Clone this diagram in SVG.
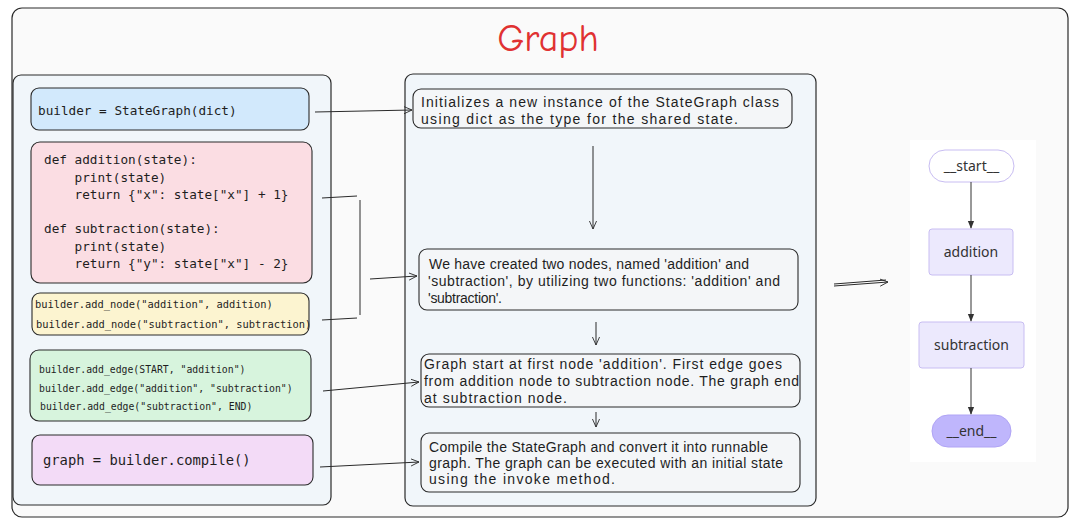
<svg xmlns="http://www.w3.org/2000/svg" width="1076" height="527" viewBox="0 0 1076 527">
<defs>
<style>
.frame{fill:#fafafa;stroke:#2a2a2a;stroke-width:1.2}
.panel{fill:#f1f6fa;stroke:#2a2a2a;stroke-width:1.2}
.box{stroke:#2a2a2a;stroke-width:1.1}
.code{font-family:"DejaVu Sans Mono","Liberation Mono",monospace;fill:#1e1e1e}
.hand{font-family:"Liberation Sans","DejaVu Sans",sans-serif;font-size:14px;fill:#1e1e1e}
.conn{fill:none;stroke:#2a2a2a;stroke-width:1}
.mconn{fill:none;stroke:#333;stroke-width:1}
.mnode{fill:#ece9fd;stroke:#c8bdf2;stroke-width:1}
.mtext{font-family:"Noto Sans","DejaVu Sans",sans-serif;font-size:14px;fill:#333;text-anchor:middle}
</style>
<marker id="ah" viewBox="0 0 10 10" refX="9" refY="5" markerWidth="9" markerHeight="9" orient="auto" markerUnits="userSpaceOnUse">
<path d="M0,1 L9,5 L0,9" fill="none" stroke="#2a2a2a" stroke-width="1"/>
</marker>
<marker id="mah" viewBox="0 0 10 10" refX="9" refY="5" markerWidth="8" markerHeight="8" orient="auto" markerUnits="userSpaceOnUse">
<path d="M0,1 L10,5 L0,9 z" fill="#333"/>
</marker>
</defs>

<g id="frame">
<rect class="frame" x="12" y="8" width="1056" height="509" rx="10"/>
<text x="548" y="51" font-family="Comic Neue,'Liberation Sans',sans-serif" font-size="38" fill="#e03131" text-anchor="middle">Graph</text>
</g>

<g id="left-panel"><rect class="panel" x="13" y="75" width="318" height="430" rx="8"/></g>
<g id="mid-panel"><rect class="panel" x="405" y="74" width="411" height="432" rx="8"/></g>

<g id="code-builder">
<rect class="box" x="31" y="88" width="278" height="42" rx="8" fill="#d2e9fc"/>
<text class="code" x="38" y="115" font-size="12.7">builder = StateGraph(dict)</text>
</g>

<g id="code-functions">
<rect class="box" x="31" y="142" width="281" height="141" rx="9" fill="#fbdde3"/>
<text class="code" font-size="12.7" xml:space="preserve"><tspan x="44" y="164">def addition(state):</tspan><tspan x="44" y="182">    print(state)</tspan><tspan x="44" y="199">    return {"x": state["x"] + 1}</tspan><tspan x="44" y="233">def subtraction(state):</tspan><tspan x="44" y="251">    print(state)</tspan><tspan x="44" y="268">    return {"y": state["x"] - 2}</tspan></text>
</g>

<g id="code-add-node">
<rect class="box" x="32" y="293" width="277" height="42" rx="8" fill="#fcf4d0"/>
<text class="code" font-size="10.4"><tspan x="35" y="308">builder.add_node("addition", addition)</tspan><tspan x="36" y="328">builder.add_node("subtraction", subtraction)</tspan></text>
</g>

<g id="code-add-edge">
<rect class="box" x="30" y="350" width="281" height="71" rx="9" fill="#d7f4dd"/>
<text class="code" font-size="9.8"><tspan x="39" y="373">builder.add_edge(START, "addition")</tspan><tspan x="39" y="392">builder.add_edge("addition", "subtraction")</tspan><tspan x="40" y="410">builder.add_edge("subtraction", END)</tspan></text>
</g>

<g id="code-compile">
<rect class="box" x="32" y="435" width="281" height="50" rx="8" fill="#f3dbf7"/>
<text class="code" x="43" y="465" font-size="13.8">graph = builder.compile()</text>
</g>

<g id="desc-1">
<rect class="box" x="413" y="89" width="379" height="39" rx="8" fill="#f4f6f8"/>
<text class="hand"><tspan x="421" y="107" textLength="358">Initializes a new instance of the StateGraph class</tspan><tspan x="421" y="124" textLength="317">using dict as the type for the shared state.</tspan></text>
</g>

<g id="desc-2">
<rect class="box" x="419" y="249" width="379" height="61" rx="8" fill="#f4f6f8"/>
<text class="hand"><tspan x="429" y="269" textLength="320">We have created two nodes, named 'addition' and</tspan><tspan x="428" y="286" textLength="352">'subtraction', by utilizing two functions: 'addition' and</tspan><tspan x="428" y="303" textLength="74">'subtraction'.</tspan></text>
</g>

<g id="desc-3">
<rect class="box" x="421" y="354" width="379" height="53" rx="8" fill="#f4f6f8"/>
<text class="hand"><tspan x="424" y="369" textLength="358">Graph start at first node 'addition'. First edge goes</tspan><tspan x="424" y="386" textLength="375">from addition node to subtraction node. The graph end</tspan><tspan x="424" y="403" textLength="143">at subtraction node.</tspan></text>
</g>

<g id="desc-4">
<rect class="box" x="421" y="433" width="379" height="59" rx="8" fill="#f4f6f8"/>
<text class="hand"><tspan x="429" y="452" textLength="339">Compile the StateGraph and convert it into runnable</tspan><tspan x="429" y="468" textLength="354">graph. The graph can be executed with an initial state</tspan><tspan x="429" y="484" textLength="186">using the invoke method.</tspan></text>
</g>

<g id="graph-image">
<rect x="910" y="140" width="126" height="322" fill="#ffffff"/>
<g id="node-start"><rect x="929" y="150" width="85" height="32" rx="16" fill="#ffffff" stroke="#c8bdf2" stroke-width="1"/><text class="mtext" x="971.5" y="171">__start__</text></g>
<g id="node-addition"><rect class="mnode" x="929" y="229" width="84" height="46" rx="3"/><text class="mtext" x="971" y="257">addition</text></g>
<g id="node-subtraction"><rect class="mnode" x="919" y="322" width="105" height="46" rx="3"/><text class="mtext" x="971.5" y="350">subtraction</text></g>
<g id="node-end"><rect x="932" y="415" width="79" height="32" rx="16" fill="#bfb6fc" stroke="#b0a4f5" stroke-width="1"/><text class="mtext" x="971.5" y="436">__end__</text></g>
<g id="graph-edges">
<path class="mconn" d="M971,182 L971,228" marker-end="url(#mah)"/>
<path class="mconn" d="M971,275 L971,321" marker-end="url(#mah)"/>
<path class="mconn" d="M971,368 L971,414" marker-end="url(#mah)"/>
</g>
</g>

<g id="connectors">
<path class="conn" d="M315,112 L412,110" marker-end="url(#ah)"/>
<path class="conn" d="M322,198 L357,196 M360,200 L360,315 M322,320 L357,318"/>
<path class="conn" d="M370,279 L417,276" marker-end="url(#ah)"/>
<path class="conn" d="M323,391 L419,382" marker-end="url(#ah)"/>
<path class="conn" d="M320,467 L419,462" marker-end="url(#ah)"/>
<path class="conn" d="M593,146 L593,229" marker-end="url(#ah)"/>
<path class="conn" d="M596,322 L596,345" marker-end="url(#ah)"/>
<path class="conn" d="M596,412 L596,427" marker-end="url(#ah)"/>
<path class="conn" d="M834,286 L888,282" marker-end="url(#ah)"/>
<path class="conn" d="M834,284 L886,280"/>
</g>
</svg>
